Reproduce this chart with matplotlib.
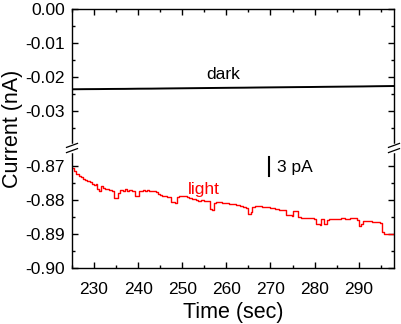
import matplotlib
matplotlib.use('Agg')
import matplotlib.pyplot as plt
from matplotlib.ticker import FixedLocator, FixedFormatter

plt.rcParams['font.family'] = ['Liberation Sans', 'DejaVu Sans']

# ---------------- data ----------------
dark_t = [225, 228, 231, 234, 237, 240, 243, 246, 249, 252, 255, 258, 261,
          264, 267, 270, 273, 276, 279, 282, 285, 288, 291, 294, 298]
dark_i = [-0.02362, -0.02358, -0.02356, -0.02352, -0.02350, -0.02345, -0.02343,
          -0.02338, -0.02334, -0.02330, -0.02326, -0.02322, -0.02318, -0.02315,
          -0.02310, -0.02306, -0.02302, -0.02298, -0.02295, -0.02290, -0.02286,
          -0.02282, -0.02278, -0.02272, -0.02266]

light_t = [225.0, 225.5, 226.0, 226.5, 227.0, 227.5, 228.0, 228.5, 229.0, 229.5,
           230.0, 230.4, 230.7, 231.2, 231.5, 232.0, 232.5, 233.0, 233.5, 234.0,
           234.6, 235.4, 235.8, 236.5, 237.0, 237.5, 238.0, 238.6, 239.3, 240.3,
           241.0, 241.5, 242.0, 242.5, 243.0, 243.5, 244.0, 244.5, 245.0, 245.5,
           246.0, 246.5, 247.0, 247.5, 248.3, 248.7, 249.2, 249.8, 250.3, 251.0,
           251.6, 252.2, 253.0, 253.6, 254.2, 255.0, 255.8, 256.2, 256.8, 257.2,
           257.7, 258.3, 259.0, 259.7, 260.5, 261.4, 262.2, 263.0, 263.8, 264.4,
           264.9, 265.5, 265.9, 266.5, 267.2, 268.0, 269.0, 270.0, 271.0, 272.0,
           273.0, 273.5, 274.8, 275.2, 275.7, 276.2, 277.0, 278.0, 279.0, 279.8,
           280.3, 281.2, 281.5, 282.2, 282.7, 283.3, 284.0, 285.0, 286.0, 287.0,
           288.0, 289.0, 289.6, 290.0, 290.5, 291.0, 292.0, 293.0, 294.0, 294.8,
           295.3, 295.7, 296.5, 297.2, 298.0]
light_i = [-0.8705, -0.8714, -0.8722, -0.8728, -0.8733, -0.8737, -0.8741, -0.8745, -0.8748, -0.8752,
           -0.8756, -0.8752, -0.8768, -0.8772, -0.8760, -0.8764, -0.8767, -0.8769, -0.8771, -0.8772,
           -0.8794, -0.8778, -0.8770, -0.8772, -0.8769, -0.8772, -0.8771, -0.8774, -0.8789, -0.8772,
           -0.8770, -0.8772, -0.8771, -0.8773, -0.8772, -0.8774, -0.8777, -0.8783, -0.8786, -0.8788,
           -0.8787, -0.8790, -0.8791, -0.8806, -0.8808, -0.8792, -0.8789, -0.8787, -0.8789, -0.8792,
           -0.8795, -0.8797, -0.8800, -0.8802, -0.8801, -0.8803, -0.8802, -0.8826, -0.8830, -0.8810,
           -0.8805, -0.8806, -0.8808, -0.8810, -0.8811, -0.8812, -0.8815, -0.8818, -0.8821, -0.8823,
           -0.8840, -0.8836, -0.8820, -0.8818, -0.8819, -0.8821, -0.8822, -0.8824, -0.8825, -0.8828,
           -0.8830, -0.8845, -0.8846, -0.8831, -0.8833, -0.8851, -0.8852, -0.8853, -0.8854, -0.8856,
           -0.8872, -0.8873, -0.8856, -0.8872, -0.8858, -0.8855, -0.8856, -0.8855, -0.8854, -0.8855,
           -0.8853, -0.8854, -0.8858, -0.8876, -0.8870, -0.8862, -0.8863, -0.8864, -0.8865, -0.8867,
           -0.8895, -0.8899, -0.8899, -0.8901, -0.8900]

upper_major = [0.00, -0.01, -0.02, -0.03]
upper_minor = [-0.005, -0.015, -0.025, -0.035]
lower_major = [-0.87, -0.88, -0.89, -0.90]
lower_minor = [-0.875, -0.885, -0.895]
x_major = [230, 240, 250, 260, 270, 280, 290]
x_minor = [225, 235, 245, 255, 265, 275, 285, 295]

# ---------------- broken-axis mapping ----------------
BREAK_UPPER = -0.041
BREAK_LOWER = -0.8648
OFFSET = BREAK_UPPER - BREAK_LOWER


def fwd(v):
    return v if v > -0.5 else v + OFFSET


fig = plt.figure(figsize=(4.01, 3.24), dpi=100)
ax = fig.add_axes([72 / 401, 1 - 268 / 324, 322 / 401, 259 / 324])

ax.plot(dark_t, [fwd(v) for v in dark_i], color='black', lw=1.4)
ax.plot(light_t, [fwd(v) for v in light_i], color='#ff0000', lw=1.0,
        drawstyle='steps-post')

ax.set_xlim(225, 298)
ax.set_ylim(fwd(-0.90), 0.0)

ymaj = [fwd(v) for v in upper_major + lower_major]
ylab = ['%.2f' % v for v in upper_major + lower_major]
ax.yaxis.set_major_locator(FixedLocator(ymaj))
ax.yaxis.set_major_formatter(FixedFormatter(ylab))
ax.yaxis.set_minor_locator(FixedLocator([fwd(v) for v in upper_minor + lower_minor]))
ax.xaxis.set_major_locator(FixedLocator(x_major))
ax.xaxis.set_major_formatter(FixedFormatter([str(v) for v in x_major]))
ax.xaxis.set_minor_locator(FixedLocator(x_minor))

ax.tick_params(which='both', direction='in', top=True, right=True, width=1.0,
               labelsize=12.5)
ax.tick_params(which='major', length=4)
ax.tick_params(which='minor', length=2.5)
ax.tick_params(axis='y', pad=5)
ax.tick_params(axis='x', pad=10)
for s in ax.spines.values():
    s.set_linewidth(1.0)

ax.set_xlabel('Time (sec)', fontsize=15.5, labelpad=3.5)
ax.set_ylabel('Current (nA)', fontsize=15.5)
ax.yaxis.set_label_coords(-0.153, 0.537)

# annotations
ax.text(255.5, -0.0206, 'dark', fontsize=12.5, ha='left', va='baseline')
ax.text(251.2, fwd(-0.8782), 'light', fontsize=12.5, color='#ff0000',
        ha='left', va='baseline')
ax.plot([269.6, 269.6], [fwd(-0.8673), fwd(-0.8729)], color='black', lw=1.5)
ax.text(271.4, fwd(-0.8718), '3 pA', fontsize=12.5, ha='left', va='baseline')

# break marks on both spines
yb = 1 - (148 - 9) / 259
dy = 2.6 / 259
sx = 5.5 / 322
sy = 2.0 / 259
for x0 in (0.0, 1.0):
    ax.plot([x0, x0], [yb - dy, yb + dy], color='white', lw=2.5,
            transform=ax.transAxes, clip_on=False, zorder=5)
    for yc in (yb - dy, yb + dy):
        ax.plot([x0 - sx, x0 + sx], [yc - sy, yc + sy], color='black', lw=0.9,
                transform=ax.transAxes, clip_on=False, zorder=6)

fig.savefig('out.png', dpi=100)
